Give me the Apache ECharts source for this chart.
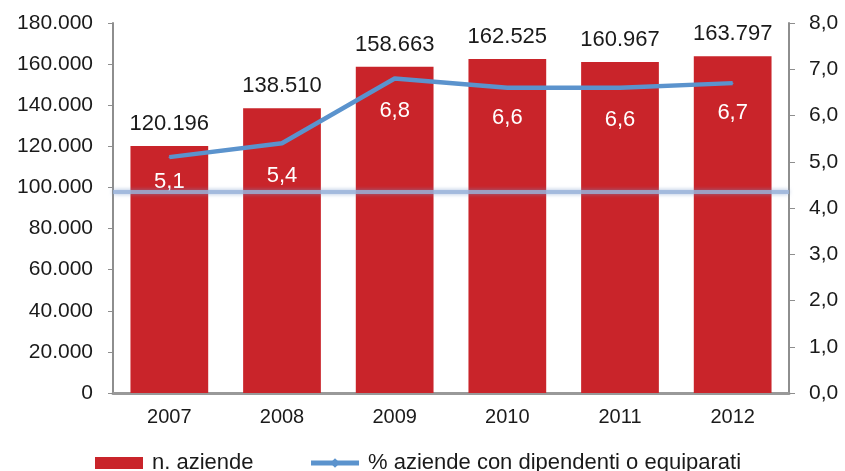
<!DOCTYPE html>
<html><head><meta charset="utf-8">
<script src="https://cdn.jsdelivr.net/npm/echarts@6/dist/echarts.min.js"></script>
<style>html,body{margin:0;padding:0;background:#fff}#c{width:845px;height:471px}</style>
</head><body><div id="c"></div>
<script>
const categories = ['2007','2008','2009','2010','2011','2012'];
const aziende = [120196, 138510, 158663, 162525, 160967, 163797];
const percDipendenti = [5.1, 5.4, 6.8, 6.6, 6.6, 6.7];
const artifactLineValue = 4.35;

// layout only: vertical label offsets (px) below each line point
const lineLabelDrop = [25, 33, 32, 30, 32, 30];

const FONT = 'Liberation Sans, Arial, sans-serif';
const fmtThousands = v => String(Math.round(v)).replace(/\B(?=(\d{3})+(?!\d))/g, '.');
const fmtDec = v => v.toFixed(1).replace('.', ',');

const lineData = percDipendenti.map((v, i) => ({value: v, label: {offset: [0, lineLabelDrop[i]]}}));

const chart = echarts.init(document.getElementById('c'), null, {renderer:'canvas'});
chart.setOption({
  animation: false,
  textStyle: {fontFamily: FONT},
  grid: {left: 113, right: 56, top: 23, bottom: 78},
  legend: {
    left: 90, top: 447, itemWidth: 48, itemHeight: 12, itemGap: 55,
    lineStyle: {width: 5},
    textStyle: {fontSize: 22, color: '#1a1a1a', fontFamily: FONT, padding: [0,0,0,4]},
    data: [
      {name: 'n. aziende', icon: 'rect'},
      {name: '% aziende con dipendenti o equiparati'}
    ]
  },
  xAxis: {
    type: 'category', data: categories,
    axisLine: {lineStyle: {color: '#999999', width: 3}},
    axisTick: {show: false},
    axisLabel: {fontSize: 20, color: '#1a1a1a', margin: 14, fontFamily: FONT}
  },
  yAxis: [
    {
      type: 'value', min: 0, max: 180000, interval: 20000,
      axisLine: {show: true, lineStyle: {color: '#8e8e8e', width: 2}},
      axisTick: {show: true, length: 5, lineStyle: {color: '#8e8e8e', width: 1}},
      splitLine: {show: false},
      axisLabel: {fontSize: 21, color: '#1a1a1a', margin: 20, fontFamily: FONT, formatter: fmtThousands}
    },
    {
      type: 'value', min: 0, max: 8, interval: 1, position: 'right',
      axisLine: {show: true, lineStyle: {color: '#8e8e8e', width: 2}},
      axisTick: {show: true, length: 6, lineStyle: {color: '#8e8e8e', width: 1}},
      splitLine: {show: false},
      axisLabel: {fontSize: 21, color: '#1a1a1a', margin: 20, fontFamily: FONT, formatter: fmtDec}
    }
  ],
  series: [
    {
      name: 'n. aziende', type: 'bar', data: aziende, yAxisIndex: 0,
      barCategoryGap: '31%',
      itemStyle: {color: '#C9242A'},
      label: {show: true, position: 'top', distance: 11, fontSize: 22, color: '#1a1a1a', fontFamily: FONT,
        formatter: p => fmtThousands(p.value)}
    },
    {
      name: '% aziende con dipendenti o equiparati', type: 'line', data: lineData, yAxisIndex: 1,
      symbol: 'diamond', symbolSize: 2, showSymbol: true,
      lineStyle: {color: '#5B93CD', width: 4.5},
      itemStyle: {color: '#5B93CD'},
      label: {show: true, position: 'inside', fontSize: 22, color: '#ffffff', fontFamily: FONT,
        formatter: p => fmtDec(p.value)},
      z: 3,
      markLine: {
        silent: true, symbol: ['none','none'], label: {show: false},
        lineStyle: {color: '#9AB3D9', width: 4, type: 'solid', opacity: 0.8, shadowBlur: 4, shadowColor: 'rgba(120,150,200,0.8)'},
        data: [{yAxis: artifactLineValue}]
      }
    }
  ]
});
</script></body></html>
